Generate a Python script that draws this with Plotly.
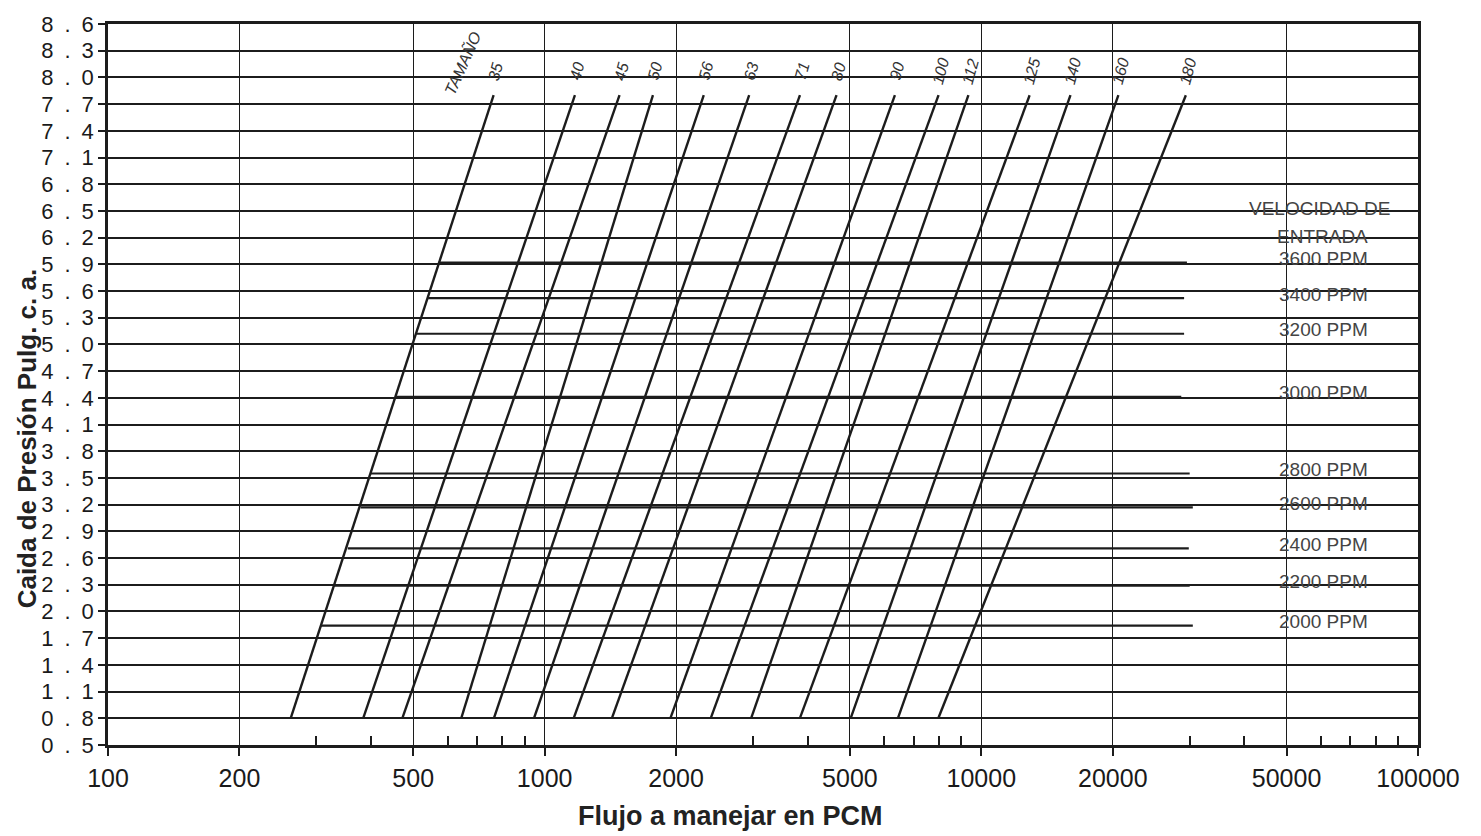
import math
import plotly.graph_objects as go

# ---------------- data ----------------
y_tick_values = [0.5, 0.8, 1.1, 1.4, 1.7, 2.0, 2.3, 2.6, 2.9, 3.2, 3.5, 3.8, 4.1,
                 4.4, 4.7, 5.0, 5.3, 5.6, 5.9, 6.2, 6.5, 6.8, 7.1, 7.4, 7.7, 8.0, 8.3, 8.6]
y_tick_labels = ["0\u2002.\u20025", "0\u2002.\u20028", "1\u2002.\u20021", "1\u2002.\u20024",
                 "1\u2002.\u20027", "2\u2002.\u20020", "2\u2002.\u20023", "2\u2002.\u20026",
                 "2\u2002.\u20029", "3\u2002.\u20022", "3\u2002.\u20025", "3\u2002.\u20028",
                 "4\u2002.\u20021", "4\u2002.\u20024", "4\u2002.\u20027", "5\u2002.\u20020",
                 "5\u2002.\u20023", "5\u2002.\u20026", "5\u2002.\u20029", "6\u2002.\u20022",
                 "6\u2002.\u20025", "6\u2002.\u20028", "7\u2002.\u20021", "7\u2002.\u20024",
                 "7\u2002.\u20027", "8\u2002.\u20020", "8\u2002.\u20023", "8\u2002.\u20026"]

x_tick_values = [100, 200, 500, 1000, 2000, 5000, 10000, 20000, 50000, 100000]
x_tick_labels = ["100", "200", "500", "1000", "2000", "5000", "10000", "20000", "50000", "100000"]
x_minor_ticks = [300, 400, 600, 700, 800, 900, 3000, 4000, 6000, 7000, 8000, 9000,
                 30000, 40000, 60000, 70000, 80000, 90000]

# fan sizes (TAMAÑO): flow at the low end (0.8) and the high end (7.8) of each line
sizes = ["35", "40", "45", "50", "56", "63", "71", "80", "90", "100", "112", "125", "140", "160", "180"]
size_flow_low = [262, 384, 472, 644, 765, 945, 1165, 1425, 1940, 2400, 2970, 3840, 5020, 6440, 7970]
size_flow_high = [764, 1173, 1484, 1770, 2314, 2940, 3843, 4660, 6340, 7980, 9341, 12900, 16000, 20600, 29400]
size_dp_low = [0.8] * 15
size_dp_high = [7.8] * 15

# inlet velocity (VELOCIDAD DE ENTRADA) lines
velocities = ["3600 PPM", "3400 PPM", "3200 PPM", "3000 PPM", "2800 PPM",
              "2600 PPM", "2400 PPM", "2200 PPM", "2000 PPM"]
velocity_dp = [5.92, 5.52, 5.12, 4.41, 3.55, 3.17, 2.71, 2.29, 1.84]
velocity_flow_start = [572, 541, 508, 457, 400, 379, 354, 329, 307]
velocity_flow_end = [29570, 29130, 29130, 28700, 30000, 30500, 29860, 30000, 30500]

# ---------------- figure ----------------
INK = "#1c1c1c"
FONT = "Liberation Sans, Arial, sans-serif"

fig = go.Figure()

for i in range(len(sizes)):
    fig.add_trace(go.Scatter(
        x=[size_flow_low[i], size_flow_high[i]],
        y=[size_dp_low[i], size_dp_high[i]],
        mode="lines", line=dict(color=INK, width=2.4),
        showlegend=False, hoverinfo="skip"))

for i in range(len(velocities)):
    fig.add_trace(go.Scatter(
        x=[velocity_flow_start[i], velocity_flow_end[i]],
        y=[velocity_dp[i], velocity_dp[i]],
        mode="lines", line=dict(color=INK, width=2.2),
        showlegend=False, hoverinfo="skip"))

annotations = []
# size labels above each line
for i in range(len(sizes)):
    annotations.append(dict(
        x=math.log10(size_flow_high[i]) + 0.004, y=8.07, xref="x", yref="y",
        xanchor="center", yanchor="middle",
        text=sizes[i], showarrow=False, textangle=-75,
        font=dict(family=FONT, size=16, color="#333", style="italic")))
annotations.append(dict(
    x=math.log10(649), y=8.16, xref="x", yref="y", xanchor="center", yanchor="middle",
    text="TAMAÑO", showarrow=False,
    textangle=-66, font=dict(family=FONT, size=16, color="#333", style="italic")))

# velocity legend texts on the right
annotations.append(dict(x=0.925, y=6.53, xref="paper", yref="y", xanchor="center",
                        text="VELOCIDAD DE", showarrow=False,
                        font=dict(family=FONT, size=19, color="#444")))
annotations.append(dict(x=0.927, y=6.21, xref="paper", yref="y", xanchor="center",
                        text="ENTRADA", showarrow=False,
                        font=dict(family=FONT, size=19, color="#444")))
for i in range(len(velocities)):
    annotations.append(dict(
        x=0.9275, y=velocity_dp[i], xref="paper", yref="y", yshift=4,
        xanchor="center", yanchor="middle",
        text=velocities[i], showarrow=False,
        font=dict(family=FONT, size=19, color="#444")))

# axis titles
annotations.append(dict(
    x=-0.062, y=0.425, xref="paper", yref="paper", xanchor="center", yanchor="middle",
    text="<b>Caida de Presión Pulg. c. a.</b>", showarrow=False, textangle=-90,
    font=dict(family=FONT, size=26, color="#222")))
annotations.append(dict(
    x=0.475, y=-0.098, xref="paper", yref="paper", xanchor="center", yanchor="middle",
    text="<b>Flujo a manejar en PCM</b>", showarrow=False,
    font=dict(family=FONT, size=27, color="#222")))

fig.update_layout(
    width=1481, height=836,
    margin=dict(l=108, r=63, t=22, b=91),
    paper_bgcolor="white", plot_bgcolor="white",
    showlegend=False,
    annotations=annotations,
    font=dict(family=FONT, color="#222"),
)

fig.update_xaxes(
    type="log", range=[2, 5],
    tickvals=x_tick_values, ticktext=x_tick_labels,
    tickfont=dict(family=FONT, size=25, color="#1a1a1a"),
    ticks="outside", ticklen=8, tickwidth=1.5, tickcolor=INK,
    ticklabelstandoff=1,
    showgrid=True, gridcolor=INK, gridwidth=1.3,
    showline=True, linecolor=INK, linewidth=3, mirror=True,
    zeroline=False,
    minor=dict(tickvals=x_minor_ticks, ticks="inside", ticklen=9, tickwidth=1.5,
               tickcolor=INK, showgrid=False),
)
fig.update_yaxes(
    range=[0.5, 8.6],
    tickvals=y_tick_values, ticktext=y_tick_labels,
    tickfont=dict(family=FONT, size=22, color="#1a1a1a"),
    ticks="outside", ticklen=7, tickwidth=1.5, tickcolor=INK,
    showgrid=True, gridcolor=INK, gridwidth=1.6,
    showline=True, linecolor=INK, linewidth=2.5, mirror=True,
    zeroline=False,
)

fig.write_html("out.html", config={"displayModeBar": False},
               post_script="document.body.style.margin='0';document.body.style.overflow='hidden';")
